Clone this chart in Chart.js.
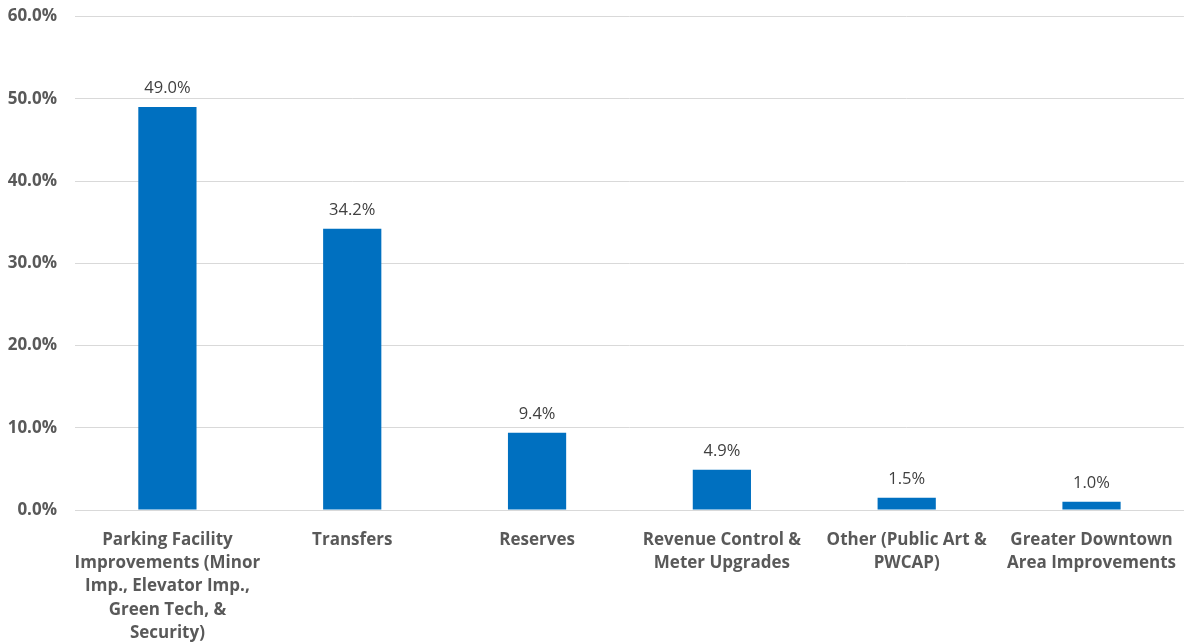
<!DOCTYPE html>
<html>
<head>
<meta charset="utf-8">
<script src="https://cdn.jsdelivr.net/npm/chart.js@4"></script>
<style>
  html, body { margin: 0; padding: 0; background: #fff; overflow: hidden; }
  #wrap { width: 1186px; height: 647px; margin-top: -4px; }
</style>
</head>
<body>
<div id="wrap"><canvas id="myChart"></canvas></div>
<script>
// categories (multi-line labels as in the original)
const categories = [
  ["Parking Facility", "Improvements (Minor", "Imp., Elevator Imp.,", "Green Tech, &", "Security)"],
  ["Transfers"],
  ["Reserves"],
  ["Revenue Control &", "Meter Upgrades"],
  ["Other (Public Art &", "PWCAP)"],
  ["Greater Downtown", "Area Improvements"]
];
const shares = [49.0, 34.2, 9.4, 4.9, 1.5, 1.0];
const yTicks = [0, 10, 20, 30, 40, 50, 60];

// value labels on top of the bars
const barLabels = {
  id: 'barLabels',
  afterDatasetsDraw(chart) {
    const ctx = chart.ctx;
    const meta = chart.getDatasetMeta(0);
    ctx.save();
    ctx.font = '16.5px "Open Sans", sans-serif';
    ctx.fillStyle = '#404040';
    ctx.textAlign = 'center';
    ctx.textBaseline = 'bottom';
    meta.data.forEach(function (bar, i) {
      ctx.fillText(shares[i].toFixed(1) + '%', bar.x, bar.y - 10);
    });
    ctx.restore();
  }
};

let myChart = document.getElementById('myChart').getContext('2d');
let budgetChart = new Chart(myChart, {
  type: 'bar',
  data: {
    labels: categories,
    datasets: [{
      data: shares,
      backgroundColor: '#0070C0',
      categoryPercentage: 1,
      barPercentage: 0.315
    }]
  },
  options: {
    responsive: true,
    maintainAspectRatio: false,
    animation: false,
    layout: { padding: { top: 9, right: 0, left: 0, bottom: 0 } },
    plugins: {
      legend: { display: false },
      tooltip: { enabled: false }
    },
    scales: {
      x: {
        grid: { display: false },
        border: { color: '#d9d9d9', width: 1 },
        ticks: {
          color: '#595959',
          font: { family: '"Open Sans", sans-serif', size: 17, weight: 'bold', lineHeight: 1.38 },
          maxRotation: 0,
          autoSkip: false,
          padding: 10
        },
        afterFit(scale) { scale.height = 133; }
      },
      y: {
        min: 0,
        max: 60,
        afterBuildTicks(scale) {
          scale.ticks = yTicks.map(v => ({ value: v }));
        },
        grid: { color: '#d9d9d9', drawTicks: false },
        border: { display: false },
        ticks: {
          color: '#595959',
          font: { family: '"Open Sans", sans-serif', size: 17, weight: 'bold', lineHeight: 0.3 },
          padding: 18,
          callback: v => v.toFixed(1) + '%'
        },
        afterFit(scale) { scale.width = 75; }
      }
    }
  },
  plugins: [barLabels]
});
</script>
</body>
</html>
